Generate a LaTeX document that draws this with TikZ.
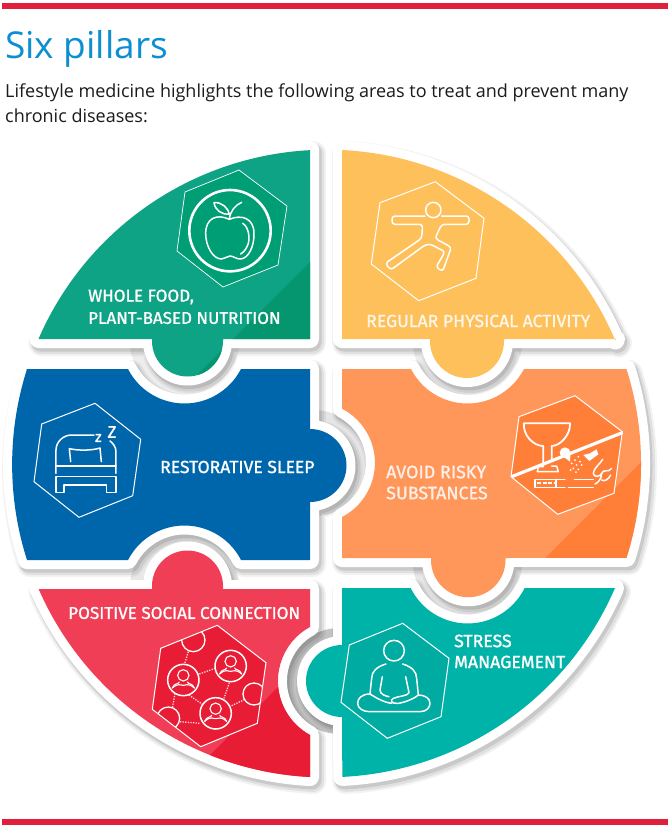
\documentclass[tikz,border=0pt]{standalone}
\usepackage{fontspec}
\setmainfont{Open Sans}
\newfontfamily\labelfont[FakeBold=1.2]{Fira Sans}
\newfontfamily\bodyfont{Open Sans}
\newcommand{\lsize}[1]{\labelfont\fontsize{#1}{#1}\selectfont}
\definecolor{barred}{HTML}{E01F3D}
\definecolor{titleblue}{HTML}{0C8FD0}
\definecolor{bodyink}{HTML}{1C1A1A}
\definecolor{cgreen}{HTML}{0FA385}
\definecolor{cgreenb}{HTML}{009E75}
\definecolor{cgreend}{HTML}{05966F}
\definecolor{cyellow}{HTML}{FDC05B}
\definecolor{cblue}{HTML}{0066AC}
\definecolor{corange}{HTML}{FF965A}
\definecolor{corangeb}{HTML}{FF7E38}
\definecolor{cred}{HTML}{EF3E56}
\definecolor{credb}{HTML}{E91C35}
\definecolor{cteal}{HTML}{00B3A8}
\definecolor{ctealb}{HTML}{00ABA1}
\tikzset{
  iconline/.style={white,line width=1.5pt,line join=round,line cap=round},
  hexline/.style={white,line width=1pt,line join=miter},
  plabel/.style={text=white,anchor=west,inner sep=0pt},
  shadowA/.style={draw=black,opacity=0.05,line width=26pt,line join=round},
  shadowB/.style={draw=black,opacity=0.07,line width=22pt,line join=round},
  shadowC/.style={draw=black,opacity=0.10,line width=19pt,line join=round},
  whiteedge/.style={draw=white,fill=white,line width=18pt,line join=round},
  netdots/.style={draw=white!80!cred,line width=1.3pt,dash pattern=on 1.3pt off 1.3pt}
}
% outlines, in reference pixels (y downwards, arc angles clockwise on screen)
\newcommand{\pgreen}{(38.5,339) arc[start angle=203.4,end angle=267,radius=314] -- (310,339) -- (223,339) -- (223,341) arc[start angle=0,end angle=180,radius=35.5] -- (152,339) -- cycle}
\newcommand{\pyellow}{(342,339) -- (342,150) arc[start angle=272.83,end angle=336.9,radius=314] -- (616,339) -- (504,339) -- (504,341) arc[start angle=0,end angle=180,radius=37] -- (430,339) -- cycle}
\newcommand{\pblue}{(26.5,369) -- (128,369) arc[start angle=152.8,end angle=27.2,radius=63.5] -- (310,369) -- (310,429) arc[start angle=-90,end angle=90,radius=36.5] -- (310,560) -- (241,560) arc[start angle=-27.2,end angle=-152.8,radius=63.5] -- (27,560) arc[start angle=162.3,end angle=197.5,radius=314] -- cycle}
\newcommand{\porange}{(342,369) -- (411,369) arc[start angle=152.8,end angle=27.2,radius=63.5] -- (626.5,369) arc[start angle=-17.5,end angle=17.5,radius=314] -- (505.5,558) -- (505.5,560) arc[start angle=0,end angle=180,radius=37.25] -- (431,558) -- (342,558) -- (342,517) arc[start angle=62.6,end angle=-62.6,radius=61] -- cycle}
\newcommand{\pred}{(38.5,589) -- (152,589) -- (152,586) arc[start angle=180,end angle=360,radius=35.5] -- (223,589) -- (310,589) -- (310,627) arc[start angle=241.4,end angle=118.6,radius=61.5] -- (310,777) arc[start angle=93,end angle=156.5,radius=314] -- cycle}
\newcommand{\pteal}{(342,588) -- (410.7,588) arc[start angle=153.8,end angle=26.2,radius=63.5] -- (615,588) arc[start angle=23.4,end angle=87.17,radius=314] -- (342,717) arc[start angle=90,end angle=270,radius=36] -- cycle}
\newcommand{\plate}[1]{%
  \draw[shadowA,shift={(3,4)}] #1;
  \draw[shadowB,shift={(3,4)}] #1;
  \draw[shadowC,shift={(2,3)}] #1;
  \path[whiteedge] #1;
}
\newcommand{\netperson}[2]{%
  \begin{scope}[shift={(#1,#2)}]
    \draw[iconline,line width=1.1pt] (0,-14) circle[radius=17];
    \draw[iconline,line width=1.1pt] (-33,24) .. controls (-27,8) and (-15,14) .. (-12,6) (33,24) .. controls (27,8) and (15,14) .. (12,6);
    \draw[iconline,line width=1.1pt] (-33,24) .. controls (-15,8) and (-8,16) .. (0,16) .. controls (8,16) and (15,8) .. (33,24);
  \end{scope}}
\begin{document}
\begin{tikzpicture}[x=1pt,y=-1pt]
\useasboundingbox (0,0) rectangle (670,828);
\fill[white] (0,0) rectangle (670,828);
\fill[barred] (2,3) rectangle (668,9);
\fill[barred] (2,819) rectangle (668,824.5);
\node[anchor=base west,inner sep=0pt,text=titleblue,font=\bodyfont\fontsize{37}{40}\selectfont] (title) at (5,58) {Six pillars};
\node[anchor=base west,inner sep=0pt,text=bodyink,font=\bodyfont\fontsize{18}{24}\selectfont] (introa) at (5,97) {Lifestyle medicine highlights the following areas to treat and prevent many};
\node[anchor=base west,inner sep=0pt,text=bodyink,font=\bodyfont\fontsize{18}{24}\selectfont] (introb) at (5,122) {chronic diseases:};
% grey wells showing through the notches
\fill[black!24] (339.5,681) circle[radius=53];
\fill[black!10] (314,463) circle[radius=53];
\fill[black!7] (184.5,340) circle[radius=55];
\fill[black!7] (467.5,340) circle[radius=55];
\fill[black!9] (184.5,589) circle[radius=55];
\fill[black!9] (467.5,560) circle[radius=55];
% plates
\plate{\pblue}
\plate{\pred}
\plate{\pgreen}
\plate{\porange}
\plate{\pyellow}
\plate{\pteal}
% coloured pieces
\fill[cgreen] \pgreen;
\begin{scope}\clip \pgreen; \fill[cgreend] (320,252) -- (320,402) -- (170,402) -- cycle; \end{scope}
\fill[cyellow] \pyellow;
\fill[cblue] \pblue;
\fill[corange] \porange;
\begin{scope}\clip \porange; \fill[corangeb] (650,453) -- (650,570) -- (533,570) -- cycle; \end{scope}
\fill[cred] \pred;
\begin{scope}\clip \pred; \fill[credb] (330,635) -- (330,790) -- (175,790) -- cycle; \end{scope}
\fill[cteal] \pteal;
% hexagons
\filldraw[hexline,fill=cgreenb,line width=.7pt] (239,170) -- (287,206) -- (278,265) -- (223,287) -- (177,251) -- (185,192) -- cycle;
\draw[hexline] (435.3,181.7) -- (484,218.3) -- (476,278.3) -- (418.7,300.7) -- (371.3,264) -- (380,202.7) -- cycle;
\draw[hexline] (95,403.3) -- (140.7,439.3) -- (132.7,495.7) -- (79,517.3) -- (34,481.7) -- (41.7,424) -- cycle;
\filldraw[hexline,fill=corangeb] (575,395.7) -- (622.3,431.7) -- (614,493.3) -- (557.7,514.3) -- (511,476.7) -- (519,416.7) -- cycle;
\filldraw[hexline,fill=credb] (217.3,625.3) -- (266,662.7) -- (257.3,723.3) -- (200.7,746.7) -- (152.3,709.3) -- (160.7,648.3) -- cycle;
\filldraw[hexline,fill=ctealb] (402.7,623.3) -- (449,658.3) -- (441,716.7) -- (387.3,738.3) -- (341,702.3) -- (349.3,645) -- cycle;
% apple
\begin{scope}[shift={(0,130)},scale=1/3]
  \draw[white,line width=2.6pt] (690,302) circle[radius=122];
  \draw[iconline] (688,268) .. controls (650,250) and (617,265) .. (617,310) .. controls (617,350) and (640,388) .. (665,387) .. controls (675,387) and (680,378) .. (690,378) .. controls (700,378) and (710,388) .. (722,387) .. controls (745,385) and (763,350) .. (762,310) .. controls (762,265) and (725,252) .. (688,268);
  \draw[iconline] (688,268) .. controls (690,245) and (705,225) .. (725,217);
  \draw[iconline] (642,218) .. controls (665,215) and (685,235) .. (688,252) .. controls (665,255) and (645,240) .. (642,218);
  \draw[iconline] (728,280) .. controls (745,290) and (750,320) .. (745,340) .. controls (740,355) and (733,365) .. (722,372);
\end{scope}
% yoga figure
\begin{scope}[shift={(330,130)},scale=1/3]
  \draw[iconline] (310,240) circle[radius=23];
  \draw[iconline,rounded corners=3pt] (285,258) -- (186,258) -- (186,283) -- (278,283) -- (275,325) -- (166,400) -- (182,420) -- (285,345) -- (300,342) -- (345,365) -- (318,412) -- (338,424) -- (364,352) -- (315,325) -- (335,283) -- (417,283) -- (417,258) -- (335,258);
\end{scope}
% bed
\begin{scope}[shift={(0,360)},scale=1/3]
  \draw[iconline] (168,340) -- (168,270) .. controls (168,245) and (190,225) .. (215,225) -- (282,225);
  \draw[iconline] (348,340) -- (348,275) .. controls (348,262) and (340,250) .. (330,243);
  \draw[iconline] (212,305) -- (208,266) .. controls (235,272) and (275,272) .. (300,264) -- (304,305);
  \draw[iconline] (168,318) -- (348,318);
  \draw[iconline] (168,350) -- (348,350) -- (348,398) -- (320,398) -- (320,375) -- (192,375) -- (192,398) -- (168,398) -- cycle;
  \node[text=white,inner sep=0pt,font=\lsize{15}] (zsmall) at (295,234) {z};
  \node[text=white,inner sep=0pt,font=\lsize{17}] (zbig) at (336,216) {Z};
\end{scope}
% substances
\begin{scope}[shift={(330,360)},scale=1/3]
  \draw[iconline,line width=1.8pt] (640,318) -- (640,258) .. controls (610,258) and (578,225) .. (582,190) -- (720,190) .. controls (722,225) and (690,258) .. (665,258) -- (665,300);
  \draw[iconline] (622,335) -- (685,335) -- (680,318) -- (665,318);
  \draw[iconline] (622,335) -- (625,320) -- (640,320);
  \draw[white,line width=3.2pt] (545,350) -- (877,218);
  \fill[white] (705,278) circle[radius=16];
  \fill[white] (720,305) -- (690,282) -- (722,275) -- cycle;
  \fill[white] (780,280) -- (800,268) -- (805,283) -- (778,303) -- (760,285) -- cycle;
  \foreach \dx/\dy in {745/290,735/300,750/305,725/310,740/315,755/315,730/325,745/328,722/330,738/336}
    \fill[white] (\dx,\dy) circle[radius=3];
  \draw[iconline,line width=1.2pt] (705,358) -- (615,358) -- (615,382) -- (705,382);
  \draw[iconline,line width=1.2pt] (678,358) -- (678,382);
  \draw[white,line width=2.2pt,dash pattern=on 4pt off 1.5pt] (622,370) -- (672,370);
  \draw[iconline,line width=1.2pt] (733,358) -- (790,358);
  \draw[iconline,line width=1.2pt] (715,382) -- (790,382);
  \draw[iconline] (818,298) .. controls (812,310) and (790,325) .. (790,340) .. controls (790,352) and (810,352) .. (815,340) .. controls (815,360) and (800,370) .. (795,372);
  \draw[iconline] (845,325) .. controls (835,340) and (820,325) .. (815,340) (842,345) .. controls (835,360) and (822,365) .. (815,360);
\end{scope}
% network
\begin{scope}[shift={(0,550)},scale=1/3]
  \draw[netdots] (565,305) -- (553,345) (598,372) -- (645,355) (688,398) -- (672,445) (567,435) -- (610,465) (525,430) -- (517,475) (540,515) -- (600,520) (695,467) -- (735,448);
  \begin{scope}
    \clip (652,226) -- (798,338) -- (772,520) -- (602,590) -- (457,478) -- (482,295) -- cycle;
    \draw[iconline,line width=1.3pt] (580,270) circle[radius=35];
    \draw[iconline,line width=1.3pt] (762,432) circle[radius=33];
    \draw[iconline,line width=1.3pt] (505,505) circle[radius=34];
  \end{scope}
  \foreach \cx/\cy in {550/390,692/348,647/490} {
    \draw[iconline,line width=1.5pt] (\cx,\cy) circle[radius=47];
    \netperson{\cx}{\cy}
  }
\end{scope}
% meditating figure
\begin{scope}[shift={(290,570)},scale=1/3]
  \draw[iconline] (312,242) circle[radius=31];
  \draw[iconline] (288,282) .. controls (260,290) and (245,305) .. (245,325) -- (240,372);
  \draw[iconline] (338,282) .. controls (365,290) and (380,305) .. (380,325) -- (385,375);
  \draw[iconline] (277,320) -- (270,360) .. controls (270,372) and (285,378) .. (297,380);
  \draw[iconline] (347,320) -- (357,368) .. controls (355,378) and (325,378) .. (310,385) .. controls (298,392) and (305,402) .. (325,400) .. controls (340,398) and (370,388) .. (385,375);
  \draw[iconline] (240,372) .. controls (215,372) and (203,385) .. (203,400) .. controls (203,415) and (220,425) .. (238,425) -- (390,425) .. controls (410,425) and (420,412) .. (420,400) .. controls (420,385) and (405,375) .. (385,375);
  \draw[iconline] (240,372) .. controls (260,385) and (285,398) .. (305,400);
\end{scope}
% labels
\node[plabel,font=\lsize{17}] (ta) at (88,297) {WHOLE FOOD,};
\node[plabel,font=\lsize{17}] (tb) at (88,318) {PLANT-BASED NUTRITION};
\node[plabel,text=white!85!cyellow,font=\lsize{17.6}] (tc) at (366,321) {REGULAR PHYSICAL ACTIVITY};
\node[plabel,font=\lsize{17.5}] (td) at (160,467) {RESTORATIVE SLEEP};
\node[plabel,text=white!85!corange,font=\lsize{17.9}] (te) at (386,472) {AVOID RISKY};
\node[plabel,text=white!85!corange,font=\lsize{17.9}] (tf) at (386,493) {SUBSTANCES};
\node[plabel,font=\lsize{17.1}] (tg) at (68,613) {POSITIVE SOCIAL CONNECTION};
\node[plabel,font=\lsize{17.7}] (th) at (454,641) {STRESS};
\node[plabel,font=\lsize{17.7}] (ti) at (454,662) {MANAGEMENT};
\end{tikzpicture}
\end{document}
